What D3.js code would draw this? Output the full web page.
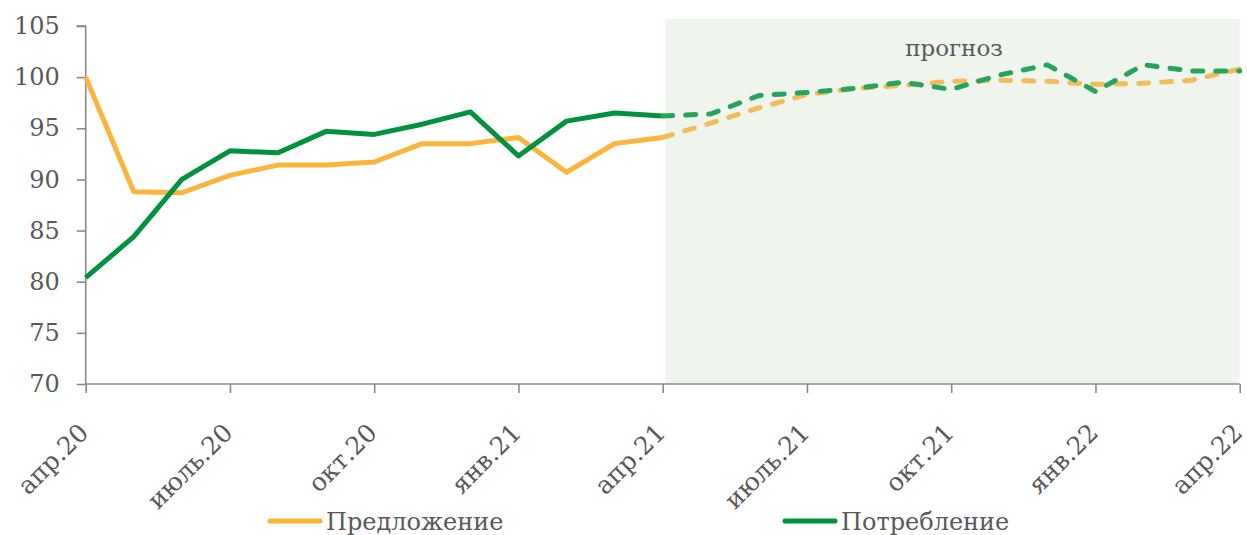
<!DOCTYPE html>
<html><head><meta charset="utf-8">
<script src="https://cdn.jsdelivr.net/npm/d3@7"></script>
<style>
html,body{margin:0;padding:0;background:#fff;}
svg{display:block;}
text{font-family:"DejaVu Serif",serif;fill:#595959;}
</style></head>
<body><svg id="c" width="1247" height="535"></svg>
<script>
const months = ["апр.20","май.20","июн.20","июль.20","авг.20","сен.20","окт.20","ноя.20","дек.20",
  "янв.21","фев.21","мар.21","апр.21","май.21","июн.21","июль.21","авг.21","сен.21","окт.21","ноя.21","дек.21",
  "янв.22","фев.22","мар.22","апр.22"];
const tickLabels = ["апр.20","июль.20","окт.20","янв.21","апр.21","июль.21","окт.21","янв.22","апр.22"];
const yTicks = [70,75,80,85,90,95,100,105];
const supply = [100,88.8,88.7,90.4,91.4,91.4,91.7,93.5,93.5,94.1,90.7,93.5,94.1,
  95.5,97.0,98.3,98.9,99.2,99.6,99.7,99.6,99.3,99.4,99.7,100.8];
const consumption = [80.4,84.4,90.0,92.8,92.6,94.7,94.4,95.4,96.6,92.3,95.7,96.5,96.2,
  96.4,98.2,98.5,98.9,99.5,98.8,100.2,101.2,98.6,101.2,100.6,100.6];
const forecastStart = "апр.21";
const seriesNames = ["Предложение","Потребление"];
const forecastLabel = "прогноз";

const svg = d3.select("#c");
const x = d3.scalePoint(months,[85.7,1239.7]);
const y = d3.scaleLinear([70,105],[384,26]);
const fi = months.indexOf(forecastStart);

// forecast shade
svg.append("rect").attr("x",x(forecastStart)+2.5).attr("y",19)
  .attr("width",x(months[months.length-1])-x(forecastStart)-2.5).attr("height",y(70)-19)
  .attr("fill","#eff5ed");

svg.append("text").attr("x",954).attr("y",56).attr("text-anchor","middle")
  .attr("font-size",23).text(forecastLabel);

// axes
const axisColor = "#8a8a8a";
const ya = svg.append("g").attr("transform",`translate(${x(months[0])},0)`)
  .call(d3.axisLeft(y).tickValues(yTicks).tickSize(9).tickPadding(17));
const xa = svg.append("g").attr("transform",`translate(0,${y(70)})`)
  .call(d3.axisBottom(x).tickValues(tickLabels).tickSize(9).tickFormat(""));
[ya,xa].forEach(g=>{
  g.select(".domain").attr("stroke",axisColor).attr("stroke-width",1.6);
  g.selectAll(".tick line").attr("stroke",axisColor).attr("stroke-width",1.6);
});
ya.select(".domain").attr("d",`M-9,${y(105)}H0V${y(70)}`);
xa.select(".domain").attr("d",`M${x(months[0])},0H${x(months[months.length-1])}`);
ya.selectAll(".tick text").attr("font-family","DejaVu Serif").attr("font-size",24).attr("fill","#595959");

svg.append("g").selectAll("text").data(tickLabels).join("text")
  .attr("transform",d=>`translate(${x(d)-2},${428}) rotate(-45)`)
  .attr("text-anchor","end").attr("dy","0.35em").attr("font-size",25).text(d=>d);

// lines
const line = d3.line().x((d,i)=>x(d.m)).y(d=>y(d.v));
function draw(vals,colSolid,colDash){
  const pts = vals.map((v,i)=>({m:months[i],v}));
  svg.append("path").attr("d",line(pts.slice(0,fi+1))).attr("fill","none")
    .attr("stroke",colSolid).attr("stroke-width",5).attr("stroke-linejoin","round");
  svg.append("path").attr("d",line(pts.slice(fi))).attr("fill","none")
    .attr("stroke",colDash).attr("stroke-width",5).attr("stroke-linejoin","round")
    .attr("stroke-linecap","round").attr("stroke-dasharray","10 13");
}
draw(supply,"#fcb43c","#f0bd5a");
draw(consumption,"#00923f","#27a35d");

// legend
const leg = [{n:seriesNames[0],c:"#fcb43c",x:268},{n:seriesNames[1],c:"#00923f",x:783}];
leg.forEach(l=>{
  svg.append("line").attr("x1",l.x+2).attr("x2",l.x+52).attr("y1",521).attr("y2",521)
    .attr("stroke",l.c).attr("stroke-width",5).attr("stroke-linecap","round");
  svg.append("text").attr("x",l.x+58).attr("y",530).attr("font-size",24).text(l.n);
});
</script></body></html>
